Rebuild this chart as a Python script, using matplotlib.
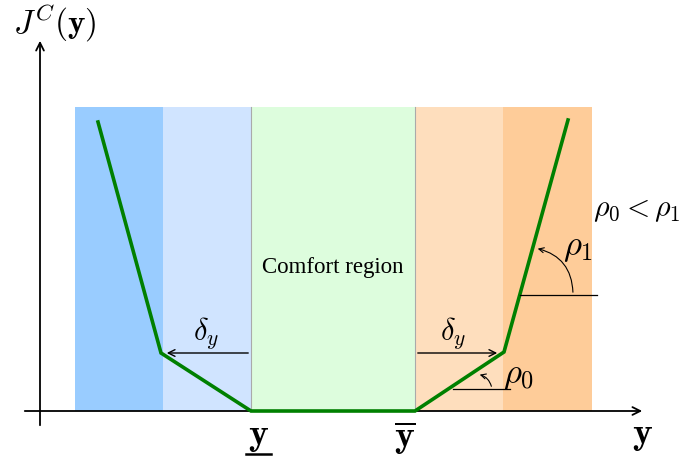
import matplotlib.pyplot as plt
from matplotlib.patches import FancyArrowPatch, Rectangle

plt.rcParams['mathtext.fontset'] = 'cm'

# band edges (x) and colours of the shaded regions
band_edges = [75, 163, 251, 415, 503, 592]
band_colors = ['#99ccff', '#d0e4ff', '#ddfddd', '#fedebd', '#fecc99']
band_top = 304

# piecewise-linear cost curve
curve_x = [98, 161, 251, 415, 504, 568]
curve_y = [289, 58, 0, 0, 59, 291]

fig = plt.figure(figsize=(6.86, 4.59), dpi=100)
ax = fig.add_axes([0, 0, 1, 1])
ax.set_xlim(0, 686)
ax.set_ylim(-48, 411)
ax.axis('off')

# shaded regions
for i, c in enumerate(band_colors):
    ax.add_patch(Rectangle((band_edges[i], 0), band_edges[i + 1] - band_edges[i], band_top,
                           facecolor=c, edgecolor='none', zorder=1))
for xe in (band_edges[2], band_edges[3]):
    ax.plot([xe, xe], [0, band_top], color='#aaaaaa', lw=0.8, zorder=2)

ax.text(333, 144, 'Comfort region', ha='center', va='center',
        family='Liberation Serif', fontsize=16.5, zorder=3)

# axes arrows
ax.annotate('', xy=(645, 0), xytext=(22, 0),
            arrowprops=dict(arrowstyle='->', lw=1.3, color='black', mutation_scale=14), zorder=4)
ax.annotate('', xy=(40, 373), xytext=(40, -17),
            arrowprops=dict(arrowstyle='->', lw=1.3, color='black', mutation_scale=14), zorder=4)

ax.text(55, 388, r'$J^C(\mathbf{y})$', ha='center', va='center', fontsize=24)
ax.text(642, -24, r'$\mathbf{y}$', ha='center', va='center', fontsize=27)
ax.text(258, -25, r'$\mathbf{y}$', ha='center', va='center', fontsize=27)
ax.plot([246, 271], [-43, -43], color='black', lw=1.8)
ax.text(405, -27, r'$\overline{\mathbf{y}}$', ha='center', va='center', fontsize=27)

# cost curve
ax.plot(curve_x, curve_y, color='#008000', lw=2.6, zorder=5, solid_joinstyle='miter')

# delta_y arrows
ax.annotate('', xy=(164, 58), xytext=(251, 58),
            arrowprops=dict(arrowstyle='->', lw=1.0, color='black', mutation_scale=12), zorder=6)
ax.annotate('', xy=(500, 58), xytext=(415, 58),
            arrowprops=dict(arrowstyle='->', lw=1.0, color='black', mutation_scale=12), zorder=6)
ax.text(206, 78, r'$\delta_y$', ha='center', va='center', fontsize=22)
ax.text(453, 78, r'$\delta_y$', ha='center', va='center', fontsize=22)

# rho_0 angle
ax.plot([453, 510], [22, 22], color='black', lw=0.9, zorder=6)
ax.add_patch(FancyArrowPatch((492, 22), (477, 37), connectionstyle='arc3,rad=0.35',
                             arrowstyle='->', mutation_scale=9, lw=0.8, color='black', zorder=6))
ax.text(519, 36, r'$\rho_0$', ha='center', va='center', fontsize=25)

# rho_1 angle
ax.plot([520, 597], [116, 116], color='black', lw=0.9, zorder=6)
ax.add_patch(FancyArrowPatch((573, 116), (535, 163), connectionstyle='arc3,rad=0.4',
                             arrowstyle='->', mutation_scale=9, lw=0.8, color='black', zorder=6))
ax.text(578, 164, r'$\rho_1$', ha='center', va='center', fontsize=25)

ax.text(637, 201, r'$\rho_0<\rho_1$', ha='center', va='center', fontsize=21.5)

fig.savefig('out.png', dpi=100)
